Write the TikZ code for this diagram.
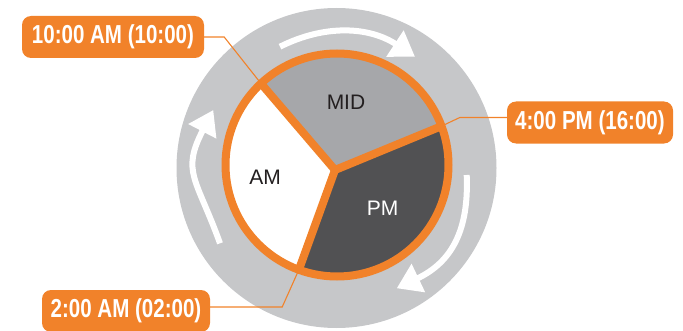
\documentclass[tikz,border=0pt]{standalone}
\usepackage{fontspec}
\setmainfont{Liberation Sans}
\newfontfamily\lblfont{Liberation Sans}[FakeStretch=0.79]
\usetikzlibrary{arrows.meta,calc}
\definecolor{clkorange}{HTML}{F1822A}
\definecolor{ringgray}{HTML}{C6C7C9}
\definecolor{midgray}{HTML}{A6A7AA}
\definecolor{pmgray}{HTML}{515153}
\definecolor{txtdark}{HTML}{231F20}
\begin{document}
\begin{tikzpicture}[x=1pt,y=1pt,
  timebox/.style={fill=clkorange, rounded corners=9pt, text=white,
    font=\lblfont\bfseries\fontsize{26}{28}\selectfont, inner sep=0pt,
    minimum height=42pt},
  leader/.style={draw=clkorange, line width=1.1pt},
  flow/.style={draw=white, line width=6pt, -{Triangle[length=24pt,width=30pt]}},
  seclabel/.style={font=\fontsize{21}{21}\selectfont, inner sep=0pt},
  ringline/.style={draw=clkorange, line width=8pt}]
\useasboundingbox (0,0) rectangle (683,330);
% outer gray ring
\fill[ringgray] (336.5,162) circle[radius=160];
% pie geometry
\coordinate (oc) at (337,165);
\coordinate (O) at (335,160);
\coordinate (A10) at ($(oc)+(133:111.5)$);
\coordinate (P4) at ($(oc)+(20.4:111.5)$);
\coordinate (A2) at ($(oc)+(250:111.5)$);
\fill[white] (oc) circle[radius=111.5];
\fill[midgray] (O) -- (A10) arc[start angle=133,end angle=20.4,radius=111.5] -- cycle;
\fill[pmgray] (O) -- (P4) arc[start angle=20.4,end angle=-110,radius=111.5] -- cycle;
% flow arrows on the ring
\coordinate (f1s) at (280,283.3);
\coordinate (f1e) at (415,273.3);
\coordinate (f2s) at (466.7,155);
\coordinate (f2e) at (396.7,41.7);
\coordinate (f3s) at (220,86.7);
\coordinate (f3e) at (213.3,220);
\draw[flow] (f1s) .. controls (324.7,305.7) and (368.8,303.6) .. (f1e);
\draw[flow] (f2s) .. controls (469,100) and (452,68) .. (f2e);
\draw[flow] (f3s) .. controls (196.2,152.5) and (181.1,157.7) .. (f3e);
% time labels
\node[timebox, minimum width=182pt] (t10) at (113,293) {10:00 AM (10:00)};
\node[timebox, minimum width=166pt] (t4) at (590,207.5) {4:00 PM (16:00)};
\node[timebox, minimum width=168pt] (t2) at (126,19) {2:00 AM (02:00)};
% leaders
\draw[leader] (t10.east) -- ++(20,0) -- (A10);
\draw[leader] ([yshift=5pt]t4.west) -- ++(-47,0) -- (P4);
\draw[leader] ([yshift=4pt]t2.east) -- ++(72,0) -- (A2);
% orange ring and dividers
\draw[ringline] (oc) circle[radius=111.5];
\draw[ringline, line join=miter] (A10) -- (O) -- (P4);
\draw[ringline] (O) -- (A2);
% sector labels
\node[seclabel, text=txtdark] (mid) at (346,228) {MID};
\node[seclabel, text=txtdark] (am) at (265,152.5) {AM};
\node[seclabel, text=white] (pm) at (382.6,121.5) {PM};
\end{tikzpicture}
\end{document}
